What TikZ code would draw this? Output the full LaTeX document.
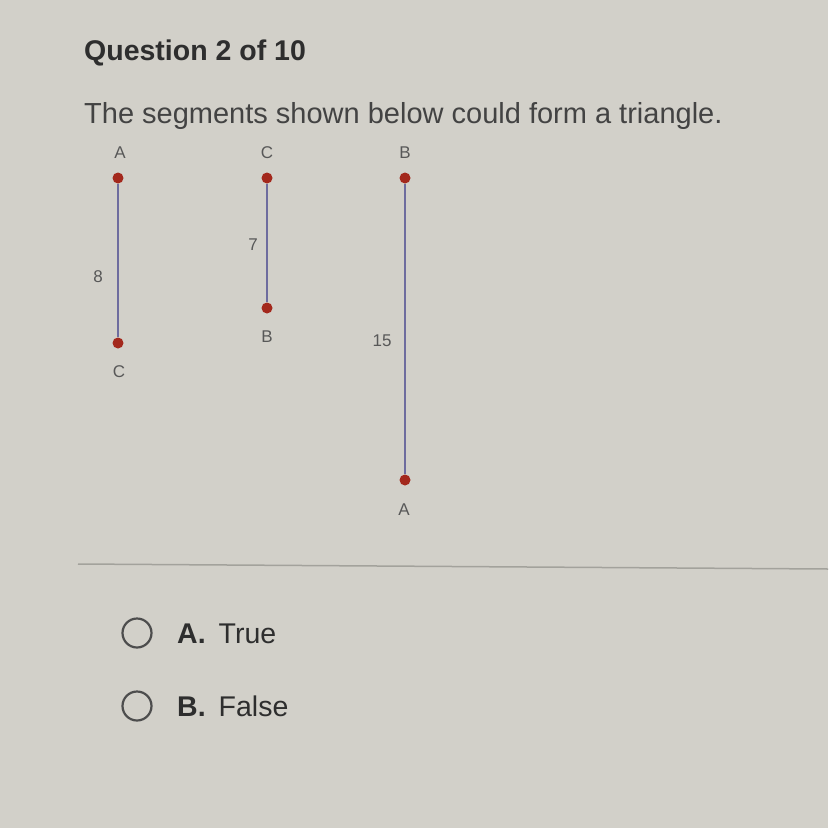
\documentclass[tikz,border=0pt]{standalone}
\usepackage{fontspec}
\setmainfont{Liberation Sans}
\usepackage{tikz}
\definecolor{screen}{HTML}{D2D0C9}
\definecolor{ink}{HTML}{2E2E2E}
\definecolor{seg}{HTML}{6E6C9E}
\definecolor{dotred}{HTML}{A3281C}
\definecolor{rule}{HTML}{A3A29C}
\tikzset{
  pt/.style={circle,fill=dotred,inner sep=0pt,minimum size=11pt},
  vlabel/.style={text=ink!80,font=\fontsize{17}{17}\selectfont,inner sep=0pt},
  seglen/.style={draw=seg,line width=2.2pt},
  radio/.style={circle,draw=ink!85,line width=2.2pt,minimum size=29pt,inner sep=0pt},
  choice/.style={anchor=base west,inner sep=0pt,text=ink,font=\fontsize{28.5}{28.5}\selectfont}
}
\begin{document}
\begin{tikzpicture}[x=1pt,y=-1pt]
  \fill[screen] (0,0) rectangle (828,828);
  \useasboundingbox (0,0) rectangle (828,828);
  \node[anchor=base west,inner sep=0pt,text=ink,font=\fontsize{28.5}{28.5}\selectfont\bfseries] (title) at (84,60) {Question 2 of 10};
  \node[anchor=base west,inner sep=0pt,text=ink!90,font=\fontsize{29}{29}\selectfont] (stem) at (84,123) {The segments shown below could form a triangle.};
  \node[pt] (a1) at (118,178) {};
  \node[pt] (c1) at (118,343) {};
  \draw[seglen] (a1) -- (c1);
  \node[vlabel] (la1) at (120,153) {A};
  \node[vlabel] (lc1) at (119,372) {C};
  \node[vlabel] (len1) at (98,277) {8};
  \node[pt] (c2) at (267,178) {};
  \node[pt] (b2) at (267,308) {};
  \draw[seglen] (c2) -- (b2);
  \node[vlabel] (lc2) at (267,153) {C};
  \node[vlabel] (lb2) at (267,337) {B};
  \node[vlabel] (len2) at (253,245) {7};
  \node[pt] (b3) at (405,178) {};
  \node[pt] (a3) at (405,480) {};
  \draw[seglen] (b3) -- (a3);
  \node[vlabel] (lb3) at (405,153) {B};
  \node[vlabel] (la3) at (404,510) {A};
  \node[vlabel] (len3) at (382,341) {15};
  \draw[rule,line width=1.5pt] (78,564) -- (828,569);
  \node[radio] (r1) at (137,633) {};
  \node[choice] (o1) at (177,643) {\textbf{A.}\hspace{13pt}True};
  \node[radio] (r2) at (137,706) {};
  \node[choice] (o2) at (177,716) {\textbf{B.}\hspace{13pt}False};
\end{tikzpicture}
\end{document}
